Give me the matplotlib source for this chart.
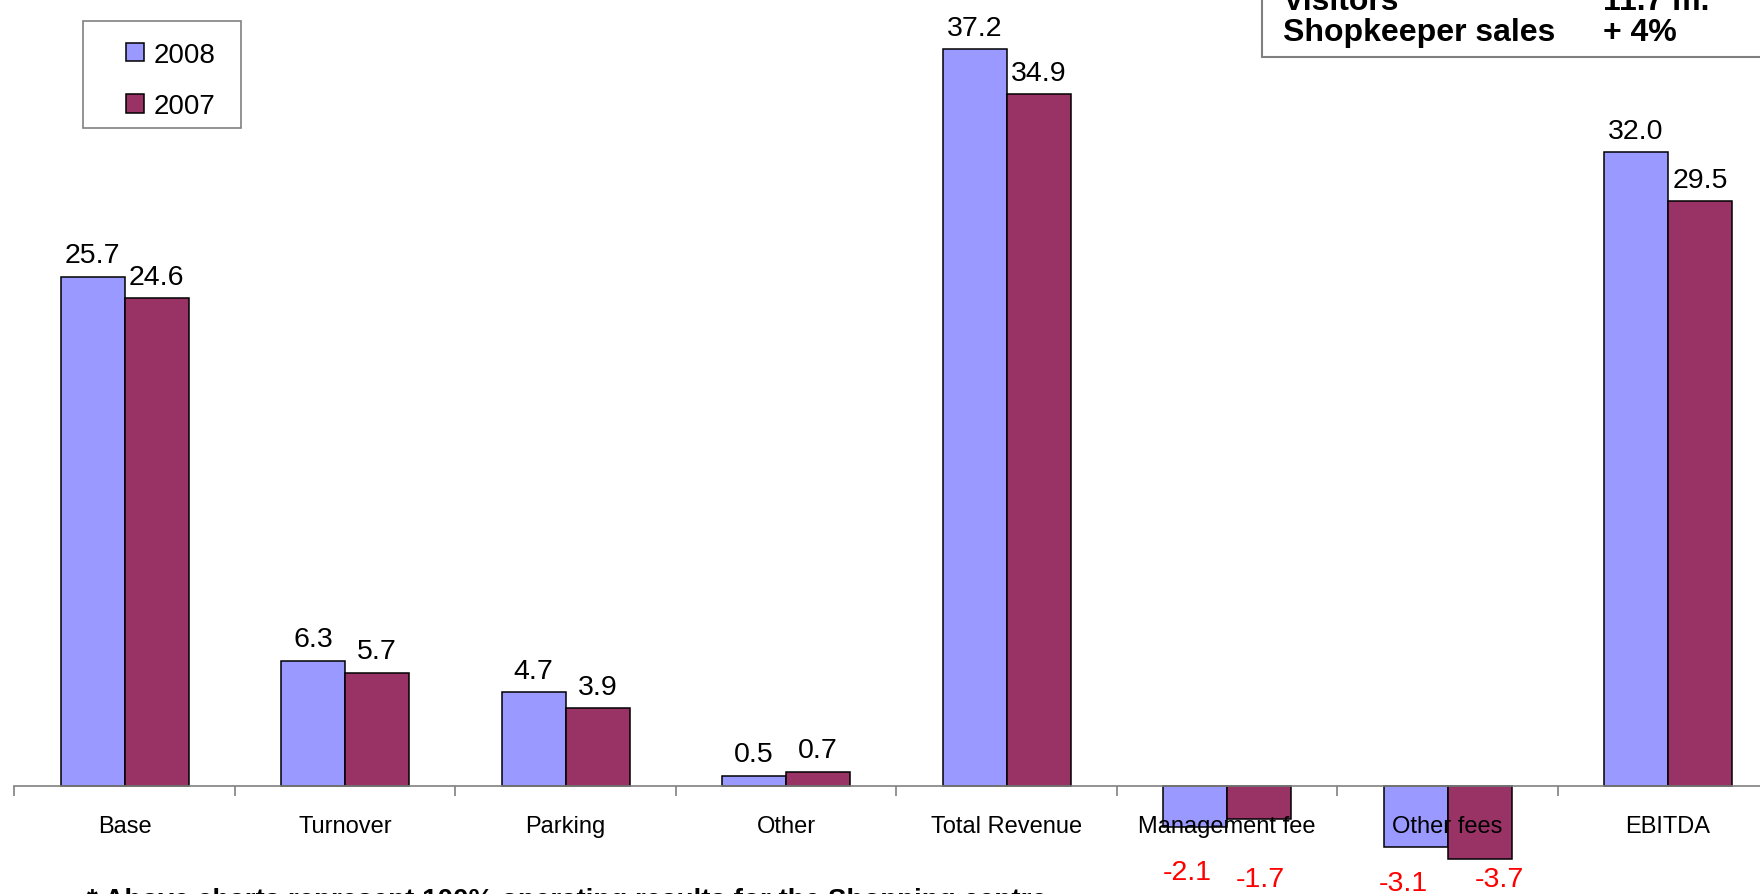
import numpy as np
import matplotlib
matplotlib.use('Agg')
import matplotlib.pyplot as plt
from matplotlib.patches import Rectangle

plt.rcParams['font.family'] = ['Liberation Sans', 'DejaVu Sans']

categories = ['Base', 'Turnover', 'Parking', 'Other', 'Total Revenue',
              'Management fee', 'Other fees', 'EBITDA']
v2008 = [25.7, 6.3, 4.7, 0.5, 37.2, -2.1, -3.1, 32.0]
v2007 = [24.6, 5.7, 3.9, 0.7, 34.9, -1.7, -3.7, 29.5]
series_names = ['2008', '2007']
colors = ['#9999FF', '#993366']

# the red labels of the negative bars sit a bit loosely below the axis
neg_offsets = {(5, 0): (-6, -53), (5, 1): (1, -58), (6, 0): (-9, -61), (6, 1): (14, -58)}

W, H = 1760, 895
fig = plt.figure(figsize=(W / 100, H / 100), dpi=100)
ax = fig.add_axes([14.35 / W, 0, 1764 / W, 1])

x = np.arange(len(categories))
bw = 0.29
for k, (vals, c) in enumerate(zip([v2008, v2007], colors)):
    xs = x + (k - 0.5) * bw
    ax.bar(xs, vals, width=bw, color=c, edgecolor='black', linewidth=1.1,
           label=series_names[k], zorder=3)
    for i, v in enumerate(vals):
        if v >= 0:
            ax.annotate(f'{v:.1f}', (xs[i], v), xytext=(0, 6), textcoords='offset points',
                        ha='center', va='bottom', fontsize=20.5)
        else:
            dx, dy = neg_offsets[(i, k)]
            ax.annotate(f'{v:.1f}', (xs[i], 0), xytext=(dx, dy), textcoords='offset points',
                        ha='center', va='top', fontsize=20.5, color='red')

ax.set_xlim(-0.5, len(categories) - 0.5)
ax.set_ylim(-(H - 786.5) / 19.8, 786.5 / 19.8)

for s in ['top', 'right', 'left']:
    ax.spines[s].set_visible(False)
ax.spines['bottom'].set_position(('data', 0))
ax.spines['bottom'].set_color('#808080')
ax.spines['bottom'].set_linewidth(1.2)
ax.spines['bottom'].set_zorder(4)
ax.set_yticks([])
ax.set_xticks(x)
ax.set_xticklabels(categories, fontsize=17)
ax.tick_params(axis='x', which='major', length=0, pad=21)
ax.set_xticks(np.arange(-0.5, len(categories), 1), minor=True)
ax.tick_params(axis='x', which='minor', length=7, width=1.2, color='#808080', direction='out')
ax.xaxis.set_zorder(5)

# legend, drawn with its own box
ax.legend(loc='upper left', bbox_to_anchor=(111.7 / W, 1 - 29 / H), bbox_transform=fig.transFigure,
          frameon=False, fontsize=20, borderpad=0, handlelength=0.68, handleheight=0.65,
          handletextpad=0.32, labelspacing=0.92)
fig.patches.append(Rectangle((82.7 / W, 1 - 129 / H), (241 - 82.7) / W, (129 - 21.7) / H,
                             transform=fig.transFigure, fill=False, edgecolor='#808080', lw=1.2))

# key figures box, top right
fig.patches.append(Rectangle((1262 / W, 1 - 58 / H), 600 / W, 100 / H,
                             transform=fig.transFigure, facecolor='white', edgecolor='#808080', lw=1.5))
fig.text(1283 / W, 1 - 10 / H, 'Visitors', fontsize=23, fontweight='bold', va='baseline')
fig.text(1603 / W, 1 - 10 / H, '11.7 m.', fontsize=23, fontweight='bold', va='baseline')
fig.text(1283 / W, 1 - 41 / H, 'Shopkeeper sales', fontsize=23, fontweight='bold', va='baseline')
fig.text(1603 / W, 1 - 41 / H, '+ 4%', fontsize=23, fontweight='bold', va='baseline')

fig.text(87 / W, 1 - 888 / H, '* Above charts represent 100% operating results for the Shopping centre',
         fontsize=20, fontweight='bold', va='top')

fig.savefig('out.png', dpi=100)
